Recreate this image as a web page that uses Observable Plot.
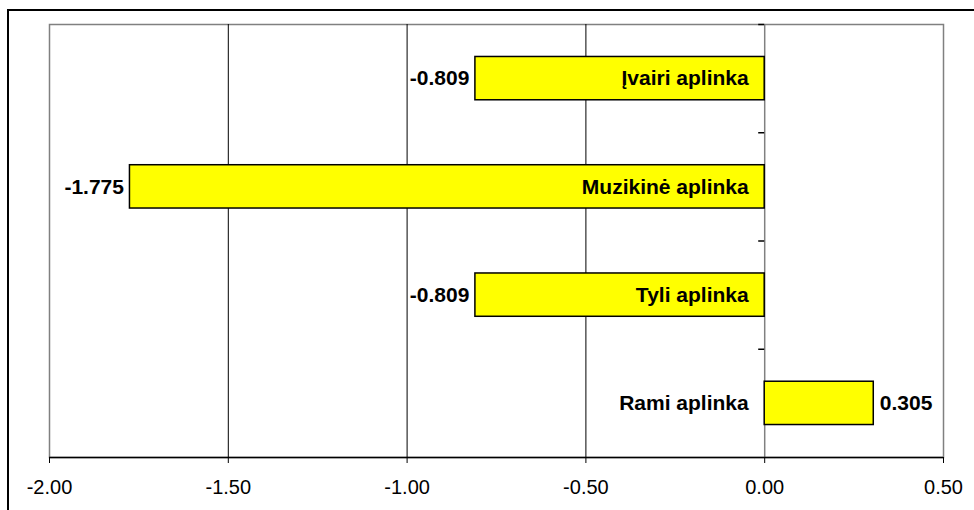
<!DOCTYPE html>
<html><head><meta charset="utf-8">
<script src="https://cdn.jsdelivr.net/npm/d3@7"></script>
<script src="https://cdn.jsdelivr.net/npm/@observablehq/plot@0.6"></script>
<style>
body{margin:0;background:#fff;}
#wrap{position:relative;width:974px;height:510px;overflow:hidden;background:#fff;}
#wrap svg{position:absolute;left:0;top:0;}
#border{position:absolute;left:7px;top:9px;width:990px;height:530px;border:2px solid #000;box-sizing:border-box;pointer-events:none;}
</style></head><body><div id="wrap"><div id="border"></div></div>
<script>
const categories = ["Įvairi aplinka", "Muzikinė aplinka", "Tyli aplinka", "Rami aplinka"];
const values = [-0.809, -1.775, -0.809, 0.305];
const xTicks = [-2, -1.5, -1, -0.5, 0, 0.5];

const data = categories.map((c, i) => ({category: c, value: values[i], i}));
const boundaries = d3.range(-0.5, categories.length - 1, 1);
const yMax = categories.length - 0.5;
const font = "'Liberation Sans', Arial, sans-serif";
const hy = s => s.replace("\u2212", "-");
const fmt3 = v => hy(d3.format(".3f")(v));
const fmt2 = v => hy(d3.format(".2f")(v));

const chart = Plot.plot({
  width: 974, height: 510,
  marginLeft: 49, marginRight: 31, marginTop: 24, marginBottom: 53,
  style: {fontFamily: font, fontSize: "20px", color: "#000", background: "transparent", overflow: "visible"},
  x: {domain: [-2, 0.5], label: null},
  y: {domain: [-0.5, yMax], reverse: true, axis: null},
  marks: [
    Plot.frame({stroke: "#808080", strokeWidth: 1.5}),
    Plot.ruleX(xTicks.filter(t => t > -2 && t < 0), {stroke: "#000", strokeWidth: 1}),
    Plot.ruleX([0], {stroke: "#808080", strokeWidth: 1.5}),
    Plot.ruleY(boundaries, {x1: 0, x2: 0, insetLeft: -6, stroke: "#000", strokeWidth: 1.5}),
    Plot.ruleY([yMax], {stroke: "#000", strokeWidth: 1.5}),
    Plot.axisX({ticks: xTicks, tickFormat: fmt2, tickSize: 6, tickPadding: 16, stroke: "#000", fill: "#000", fontSize: 20, label: null}),
    Plot.rect(data, {x1: 0, x2: "value", y1: d => d.i - 0.2, y2: d => d.i + 0.2, fill: "#ffff00", stroke: "#000", strokeWidth: 1.5}),
    Plot.text(data.filter(d => d.value < 0), {x: "value", y: "i", text: d => fmt3(d.value), textAnchor: "end", dx: -6, fontWeight: "bold", fontSize: 21, fill: "#000"}),
    Plot.text(data.filter(d => d.value >= 0), {x: "value", y: "i", text: d => fmt3(d.value), textAnchor: "start", dx: 6, fontWeight: "bold", fontSize: 21, fill: "#000"}),
    Plot.text(data, {x: 0, y: "i", text: "category", textAnchor: "end", dx: -16, fontWeight: "bold", fontSize: 21, fill: "#000"})
  ]
});
document.getElementById("wrap").prepend(chart);
</script>
</body></html>
